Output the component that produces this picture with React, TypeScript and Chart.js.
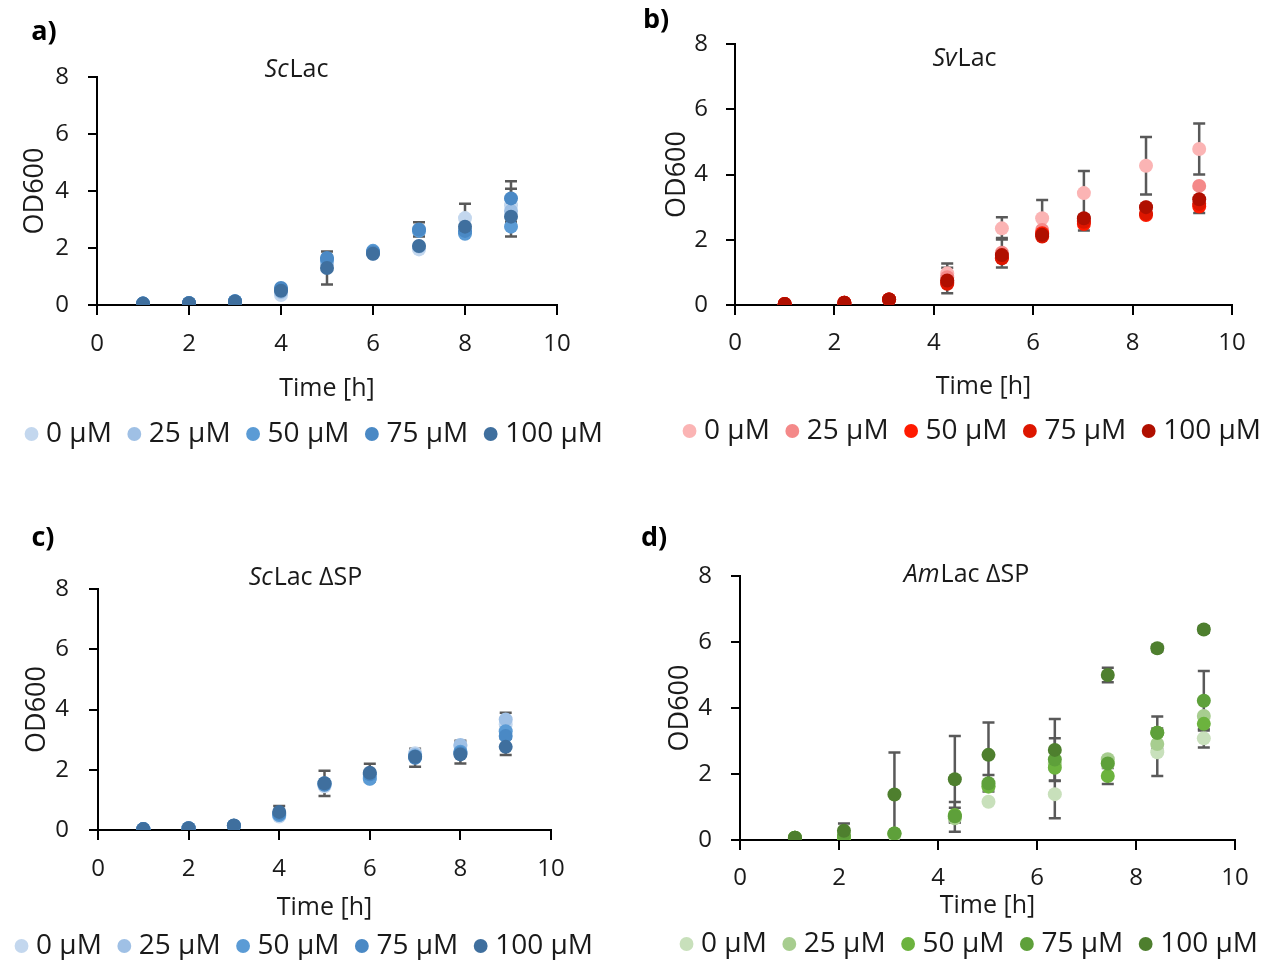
import React, { useEffect, useRef } from 'react';
import { Chart, registerables } from 'chart.js';

Chart.register(...registerables);

// ---------------- data ----------------
const concentrations = ['0 µM', '25 µM', '50 µM', '75 µM', '100 µM'];
const xTickStep = 2;
const yTickStep = 2;

// a) ScLac
const timeA = [1, 2, 3, 4, 5, 6, 7, 8, 9];
const odA = [
  [0.05, 0.06, 0.12, 0.35, 1.45, 1.85, 1.95, 3.05, 3.5],
  [0.05, 0.06, 0.12, 0.45, 1.5, 1.8, 2.05, 2.6, 3.3],
  [0.05, 0.06, 0.13, 0.55, 1.6, 1.9, 2.6, 2.5, 2.75],
  [0.05, 0.07, 0.13, 0.6, 1.65, 1.85, 2.65, 2.6, 3.74],
  [0.05, 0.06, 0.12, 0.5, 1.3, 1.8, 2.07, 2.75, 3.1],
];
const errA = [
  [0, 0, 0, 0, 0, 0, 0, 0.5, 0.58],
  [0, 0, 0, 0, 0, 0, 0, 0, 0],
  [0, 0, 0, 0, 0, 0, 0, 0, 0],
  [0, 0, 0, 0, 0, 0, 0.25, 0, 0.6],
  [0, 0, 0, 0, 0.58, 0, 0, 0, 0.7],
];

// b) SvLac
const timeB = [1.0, 2.2, 3.1, 4.27, 5.37, 6.18, 7.02, 8.27, 9.34];
const odB = [
  [0.03, 0.07, 0.17, 0.97, 2.35, 2.66, 3.43, 4.27, 4.78],
  [0.03, 0.07, 0.17, 0.85, 1.6, 2.3, 2.6, 3.0, 3.65],
  [0.03, 0.07, 0.17, 0.7, 1.45, 2.2, 2.48, 2.76, 3.02],
  [0.03, 0.07, 0.17, 0.65, 1.43, 2.1, 2.55, 2.8, 3.1],
  [0.03, 0.07, 0.17, 0.75, 1.53, 2.15, 2.66, 3.0, 3.24],
];
const errB = [
  [0, 0, 0, 0.3, 0.34, 0.56, 0.68, 0.88, 0.78],
  [0, 0, 0, 0, 0.45, 0, 0, 0, 0],
  [0, 0, 0, 0, 0, 0, 0.2, 0, 0.2],
  [0, 0, 0, 0, 0, 0, 0, 0, 0],
  [0, 0, 0, 0.39, 0, 0, 0, 0, 0],
];

// c) ScLac ΔSP
const timeC = [1, 2, 3, 4, 5, 6, 7, 8, 9];
const odC = [
  [0.03, 0.06, 0.14, 0.45, 1.45, 1.7, 2.55, 2.8, 3.5],
  [0.03, 0.06, 0.14, 0.5, 1.5, 1.75, 2.5, 2.82, 3.67],
  [0.03, 0.06, 0.14, 0.5, 1.55, 1.7, 2.45, 2.6, 3.28],
  [0.03, 0.06, 0.14, 0.55, 1.5, 1.85, 2.4, 2.55, 3.12],
  [0.03, 0.06, 0.15, 0.6, 1.55, 1.9, 2.43, 2.51, 2.76],
];
const errC = [
  [0, 0, 0, 0, 0, 0, 0, 0, 0],
  [0, 0, 0, 0, 0, 0, 0, 0.14, 0.22],
  [0, 0, 0, 0, 0.42, 0, 0, 0, 0],
  [0, 0, 0, 0, 0, 0, 0.3, 0, 0],
  [0, 0, 0, 0.2, 0, 0.3, 0, 0.3, 0.27],
];

// d) AmLac ΔSP
const timeD = [1.11, 2.1, 3.12, 4.34, 5.02, 6.36, 7.43, 8.43, 9.37];
const odD = [
  [0.07, 0.05, 0.15, 0.7, 1.16, 1.39, 2.3, 2.66, 3.08],
  [0.07, 0.08, 0.18, 0.66, 1.62, 2.3, 2.45, 2.91, 3.76],
  [0.07, 0.05, 0.2, 0.76, 1.62, 2.19, 1.94, 3.25, 3.52],
  [0.07, 0.15, 0.2, 0.72, 1.72, 2.44, 2.32, 3.25, 4.22],
  [0.07, 0.28, 1.38, 1.84, 2.58, 2.73, 5.0, 5.81, 6.38],
];
const errD = [
  [0, 0, 0, 0.45, 0, 0.73, 0, 0.72, 0.28],
  [0, 0, 0, 0, 0, 0, 0, 0, 0],
  [0, 0, 0, 0.22, 0, 0, 0.24, 0, 0],
  [0, 0, 0, 0, 0.25, 0.64, 0, 0.49, 0.9],
  [0, 0.22, 1.27, 1.31, 0.98, 0.94, 0.22, 0.1, 0.1],
];

// ---------------- styles ----------------
const blues = ['#C3D7EE', '#9FC0E5', '#5B9BD5', '#4A89C5', '#3F6F9E'];
const reds = ['#FBB4B4', '#F48989', '#FF1A00', '#DD1600', '#B00F00'];
const greens = ['#C8E0BB', '#A7CD8F', '#6CB33E', '#5EA03A', '#4E7F2E'];
const TXT = '#1a1a1a';
const FONT = '"Open Sans", sans-serif';

type PanelCfg = {
  label: string; italic: string; rest: string;
  times: number[]; od: number[][]; err: number[][]; colors: string[];
  left: number; top: number; w: number; h: number;
  padTop: number; padBottom: number;
  yW: number; y2W: number; xH: number;
  yTickPad: number; xTickPad: number; yTitlePad: number; xTitlePad: number;
  lx: number; ly: number; tx: number; ty: number;
};

const panels: PanelCfg[] = [
  {
    label: 'a)', italic: 'Sc', rest: 'Lac', times: timeA, od: odA, err: errA, colors: blues,
    left: -13, top: 0, w: 660, h: 460, padTop: 77, padBottom: 2,
    yW: 110, y2W: 90, xH: 93, yTickPad: 19, xTickPad: 14.6, yTitlePad: 31.8, xTitlePad: -6,
    lx: 57, ly: 32, tx: 309, ty: 70,
  },
  {
    label: 'b)', italic: 'Sv', rest: 'Lac', times: timeB, od: odB, err: errB, colors: reds,
    left: 645, top: 0, w: 660, h: 460, padTop: 44, padBottom: 5,
    yW: 90, y2W: 73, xH: 90, yTickPad: 18, xTickPad: 13.6, yTitlePad: 15.8, xTitlePad: -7,
    lx: 11, ly: 20, tx: 319, ty: 59,
  },
  {
    label: 'c)', italic: 'Sc', rest: 'Lac ΔSP', times: timeC, od: odC, err: errC, colors: blues,
    left: -23, top: 480, w: 660, h: 480, padTop: 109, padBottom: -10,
    yW: 121, y2W: 86, xH: 80, yTickPad: 20, xTickPad: 14.6, yTitlePad: 43.8, xTitlePad: -13,
    lx: 66, ly: 58, tx: 328, ty: 98,
  },
  {
    label: 'd)', italic: 'Am', rest: 'Lac ΔSP', times: timeD, od: odD, err: errD, colors: greens,
    left: 642, top: 480, w: 660, h: 480, padTop: 96, padBottom: -8,
    yW: 98, y2W: 67, xH: 68, yTickPad: 19, xTickPad: 13.6, yTitlePad: 21.8, xTitlePad: -13,
    lx: 12, ly: 58, tx: 324, ty: 95,
  },
];

// ---------------- plugins ----------------
const errorBarPlugin = {
  id: 'errorBars',
  beforeDatasetsDraw(chart: any) {
    const { ctx } = chart;
    const x = chart.scales.x;
    const y = chart.scales.y;
    ctx.save();
    ctx.strokeStyle = '#595959';
    ctx.lineWidth = 2.5;
    chart.data.datasets.forEach((ds: any) => {
      ds.data.forEach((pt: any, j: number) => {
        const e = ds.errors ? ds.errors[j] : 0;
        if (!e) return;
        const px = x.getPixelForValue(pt.x);
        const top = y.getPixelForValue(pt.y + e);
        const bot = y.getPixelForValue(pt.y - e);
        ctx.beginPath();
        ctx.moveTo(px, top);
        ctx.lineTo(px, bot);
        ctx.moveTo(px - 6, top);
        ctx.lineTo(px + 6, top);
        ctx.moveTo(px - 6, bot);
        ctx.lineTo(px + 6, bot);
        ctx.stroke();
      });
    });
    ctx.restore();
  },
};

function textPlugin(p: PanelCfg) {
  return {
    id: 'panelText',
    afterDraw(chart: any) {
      const ctx = chart.ctx;
      ctx.save();
      ctx.fillStyle = '#000';
      ctx.textBaseline = 'middle';
      ctx.textAlign = 'center';
      ctx.font = `bold 27px ${FONT}`;
      ctx.fillText(p.label, p.lx, p.ly);
      ctx.fillStyle = TXT;
      ctx.font = `italic 25px ${FONT}`;
      const w1 = ctx.measureText(p.italic).width;
      ctx.font = `25px ${FONT}`;
      const w2 = ctx.measureText(p.rest).width;
      const start = p.tx - (w1 + w2) / 2;
      ctx.textAlign = 'left';
      ctx.font = `italic 25px ${FONT}`;
      ctx.fillText(p.italic, start, p.ty);
      ctx.font = `25px ${FONT}`;
      ctx.fillText(p.rest, start + w1 + 1, p.ty);
      ctx.restore();
    },
  };
}

function buildConfig(p: PanelCfg): any {
  const datasets = p.od.map((vals, i) => ({
    label: concentrations[i],
    data: vals.map((v, j) => ({ x: p.times[j], y: v })),
    errors: p.err[i],
    backgroundColor: p.colors[i],
    borderColor: p.colors[i],
    borderWidth: 0,
    pointRadius: 7,
    pointHoverRadius: 7,
    pointStyle: 'circle',
    showLine: false,
    order: p.od.length - i,
  }));
  return {
    type: 'scatter',
    data: { datasets },
    plugins: [errorBarPlugin, textPlugin(p)],
    options: {
      responsive: false,
      animation: false,
      devicePixelRatio: 1,
      layout: { padding: { left: 0, right: 0, top: p.padTop, bottom: p.padBottom } },
      plugins: {
        tooltip: { enabled: false },
        title: { display: false },
        legend: {
          position: 'bottom',
          labels: {
            usePointStyle: true,
            pointStyle: 'circle',
            boxWidth: 1,
            boxHeight: 9.8,
            padding: 22,
            color: TXT,
            font: { size: 28, family: FONT },
            sort: (a: any, b: any) => a.datasetIndex - b.datasetIndex,
          },
        },
      },
      scales: {
        x: {
          type: 'linear',
          min: 0,
          max: 10,
          ticks: { stepSize: xTickStep, padding: p.xTickPad, color: TXT, font: { size: 24, family: FONT } },
          grid: { drawOnChartArea: false, tickLength: 10, color: '#000', lineWidth: 2 },
          border: { color: '#000', width: 2 },
          title: {
            display: true, text: 'Time [h]', color: TXT, font: { size: 25, family: FONT },
            padding: { top: 0, bottom: p.xTitlePad },
          },
          afterFit: (s: any) => { s.height = p.xH; },
        },
        y: {
          type: 'linear',
          min: 0,
          max: 8,
          ticks: { stepSize: yTickStep, padding: p.yTickPad, color: TXT, font: { size: 24, family: FONT } },
          grid: { drawOnChartArea: false, tickLength: 9, color: '#000', lineWidth: 2 },
          border: { color: '#000', width: 2 },
          title: {
            display: true, text: 'OD600', color: TXT, font: { size: 27, family: FONT },
            padding: { top: p.yTitlePad, bottom: 0 },
          },
          afterFit: (s: any) => { s.width = p.yW; },
        },
        y2: {
          type: 'linear',
          position: 'right',
          display: true,
          grid: { display: false },
          border: { display: false },
          ticks: { display: false },
          afterFit: (s: any) => { s.width = p.y2W; },
        },
      },
    },
  };
}

function Panel({ cfg }: { cfg: PanelCfg }) {
  const ref = useRef<HTMLCanvasElement>(null);
  useEffect(() => {
    const chart = new Chart(ref.current as HTMLCanvasElement, buildConfig(cfg));
    return () => chart.destroy();
  }, [cfg]);
  return (
    <canvas
      ref={ref}
      width={cfg.w}
      height={cfg.h}
      style={{ position: 'absolute', left: cfg.left, top: cfg.top, width: cfg.w, height: cfg.h }}
    />
  );
}

export default function App() {
  Chart.defaults.font.family = FONT;
  return (
    <div
      style={{
        position: 'absolute', left: 0, top: 0, width: 1276, height: 960,
        overflow: 'hidden', background: '#fff',
      }}
    >
      {panels.map((p) => (
        <Panel key={p.label} cfg={p} />
      ))}
    </div>
  );
}
